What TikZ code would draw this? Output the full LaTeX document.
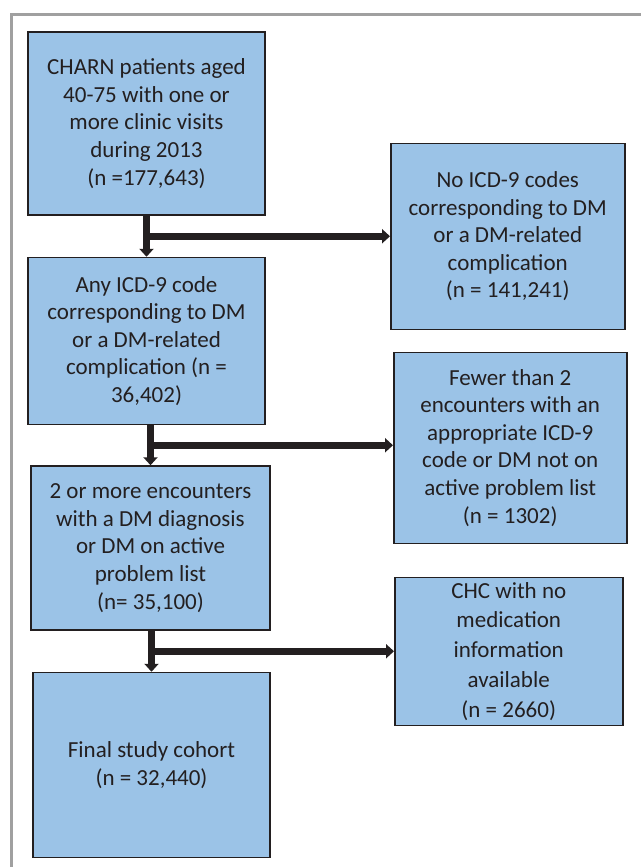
\documentclass[tikz,border=0pt]{standalone}
\usepackage{fontspec}
\setmainfont{Carlito}
\usepackage{tikz}
\usetikzlibrary{arrows.meta,positioning,calc}
\definecolor{boxblue}{HTML}{9BC3E7}
\definecolor{inkdark}{HTML}{231F20}
\definecolor{framegray}{HTML}{A0A0A0}
\tikzset{
  stage/.style={draw=inkdark,line width=1.5pt,fill=boxblue,text=inkdark,align=center,inner sep=0pt,font=\fontsize{23pt}{27.6pt}\selectfont},
  flow/.style={-{Triangle[width=14pt,length=8pt]},line width=7pt,draw=inkdark}
}

\begin{document}
\begin{tikzpicture}
    \useasboundingbox (0,0) rectangle (641pt,-867pt);
    % Frame
    \draw[framegray,line width=3pt] (11.5pt,-867pt) -- (11.5pt,-14.5pt) -- (641pt,-14.5pt);

    % Nodes
    \node[stage,minimum width=237pt,minimum height=183pt] (pop) at (146.5pt,-123.5pt) {CHARN patients aged\\40-75 with one or\\more clinic visits\\during 2013\\(n =177,643)};
    \node[stage,minimum width=237pt,minimum height=167pt,below=41pt of pop] (anyicd) {Any ICD-9 code\\corresponding to DM\\or a DM-related\\complication (n =\\36,402)};
    \node[stage,minimum width=239pt,minimum height=164pt,below=40pt of anyicd,xshift=4pt] (twoenc) {2 or more encounters\\with a DM diagnosis\\or DM on active\\problem list\\(n= 35,100)};
    \node[stage,minimum width=237pt,minimum height=185pt,below=41pt of twoenc,xshift=1pt] (cohort) {Final study cohort\\(n = 32,440)};

    % Branch points
    \coordinate (j1) at ($(pop.south)!0.5!(pop.south |- anyicd.north)$);
    \coordinate (j2) at ($(twoenc.north |- anyicd.south)!0.5!(twoenc.north)$);
    \coordinate (j3) at ($(cohort.north |- twoenc.south)!0.5!(cohort.north)$);

    % Exclusions
    \node[stage,minimum width=234pt,minimum height=186pt,right=243.5pt of j1,anchor=west] (noicd) {No ICD-9 codes\\corresponding to DM\\or a DM-related\\complication\\(n = 141,241)};
    \node[stage,minimum width=233pt,minimum height=191pt,right=242.5pt of j2,anchor=west,yshift=-2.5pt] (fewenc) {Fewer than 2\\encounters with an\\appropriate ICD-9\\code or DM not on\\active problem list\\(n = 1302)};
    \node[stage,minimum width=228pt,minimum height=148pt,right=242.5pt of j3,anchor=west,font=\fontsize{23pt}{29.7pt}\selectfont] (nomed) {CHC with no\\medication\\information\\available\\(n = 2660)};

    % Paths
    \draw[flow] (pop.south) -- (pop.south |- anyicd.north);
    \draw[flow] (j1) -- (j1 -| noicd.west);
    \draw[flow] (twoenc.north |- anyicd.south) -- (twoenc.north);
    \draw[flow] (j2) -- (j2 -| fewenc.west);
    \draw[flow] (cohort.north |- twoenc.south) -- (cohort.north);
    \draw[flow] (j3) -- (j3 -| nomed.west);
\end{tikzpicture}
\end{document}
